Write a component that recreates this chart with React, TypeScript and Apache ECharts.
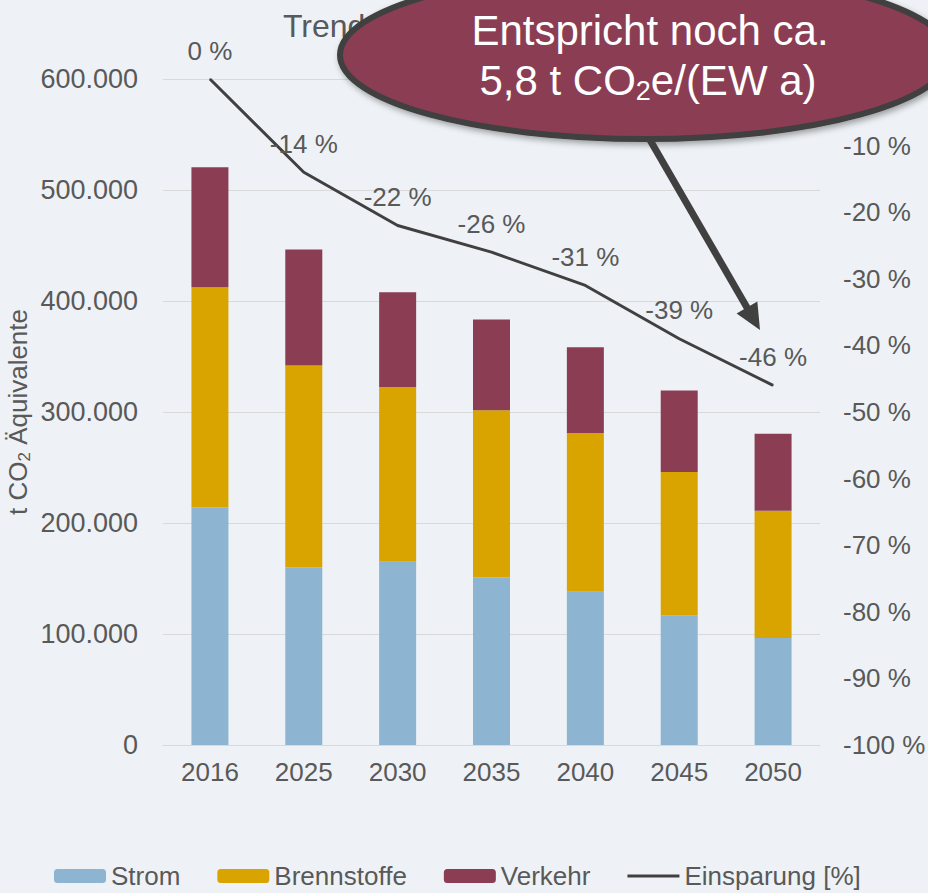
import React, { useEffect, useRef } from "react";
import * as echarts from "echarts";

const years = ["2016", "2025", "2030", "2035", "2040", "2045", "2050"];
const strom = [214000, 160000, 165000, 151000, 138000, 117000, 96500];
const brennstoffe = [198500, 182000, 157500, 150500, 143000, 129000, 114500];
const verkehr = [108000, 104500, 85300, 81800, 77300, 73300, 69300];
const einsparung = [0, -14, -22, -26, -31, -39, -46];

const FONT = "'Liberation Sans', Arial, sans-serif";
const GREY = "#595959";
const DARK = "#404040";

const fmtThousands = (v: number) =>
  String(v).replace(/\B(?=(\d{3})+(?!\d))/g, ".");

export default function App() {
  const ref = useRef<HTMLDivElement>(null);
  useEffect(() => {
    document.body.style.margin = "0";
    const chart = echarts.init(ref.current!, null, { renderer: "svg" });
    // arrow geometry
    const sx = 650, sy = 140, tx = 760, ty = 330;
    const dx = tx - sx, dy = ty - sy;
    const len = Math.sqrt(dx * dx + dy * dy);
    const ux = dx / len, uy = dy / len;
    const hl = 26, hw = 12;
    const bx = tx - ux * hl, by = ty - uy * hl;
    const px = -uy, py = ux;
    chart.setOption({
      animation: false,
      backgroundColor: "#eef2f6",
      textStyle: { fontFamily: FONT },
      title: {
        text: "Trendszenario",
        left: 278,
        top: 5,
        textStyle: { fontSize: 32, fontWeight: "normal", color: GREY, fontFamily: FONT },
      },
      grid: {
        left: 163,
        right: 108,
        top: 79,
        bottom: 148,
        containLabel: false,
        outerBoundsMode: "none",
      },
      legend: {
        top: 858,
        left: 49,
        itemWidth: 52,
        itemHeight: 14,
        itemGap: 37,
        textStyle: { fontSize: 26, color: GREY, fontFamily: FONT },
        data: [
          "Strom",
          "Brennstoffe",
          "Verkehr",
          { name: "Einsparung [%]", icon: "path://M0,0H52V3H0Z" },
        ],
      },
      xAxis: {
        type: "category",
        data: years,
        axisLine: { lineStyle: { color: "#d9d9d9", width: 1 } },
        axisTick: { show: false },
        axisLabel: { fontSize: 26, color: GREY, margin: 14, fontFamily: FONT },
      },
      yAxis: [
        {
          type: "value",
          min: 0,
          max: 600000,
          interval: 100000,
          name: "t CO{sub|2} Äquivalente",
          nameLocation: "middle",
          nameGap: 130,
          nameMoveOverlap: false,
          nameTextStyle: {
            fontSize: 26,
            color: GREY,
            fontFamily: FONT,
            lineHeight: 30,
            rich: {
              sub: { fontSize: 17, lineHeight: 12, verticalAlign: "bottom", color: GREY, fontFamily: FONT },
            },
          },
          axisLine: { show: false },
          axisTick: { show: false },
          splitLine: { lineStyle: { color: "#d9d9d9", width: 1 } },
          axisLabel: {
            fontSize: 27,
            color: GREY,
            margin: 25,
            fontFamily: FONT,
            formatter: (v: number) => fmtThousands(v),
          },
        },
        {
          type: "value",
          min: -100,
          max: 0,
          interval: 10,
          axisLine: { show: false },
          axisTick: { show: false },
          splitLine: { show: false },
          axisLabel: {
            fontSize: 26,
            color: GREY,
            margin: 23,
            fontFamily: FONT,
            formatter: (v: number) => `${v} %`,
          },
        },
      ],
      series: [
        {
          name: "Strom",
          type: "bar",
          stack: "total",
          data: strom,
          barWidth: 37,
          itemStyle: { color: "#8db4d0" },
        },
        {
          name: "Brennstoffe",
          type: "bar",
          stack: "total",
          data: brennstoffe,
          barWidth: 37,
          itemStyle: { color: "#d9a300" },
        },
        {
          name: "Verkehr",
          type: "bar",
          stack: "total",
          data: verkehr,
          barWidth: 37,
          itemStyle: { color: "#8b3d53" },
        },
        {
          name: "Einsparung [%]",
          type: "line",
          yAxisIndex: 1,
          data: einsparung,
          symbol: "circle",
          symbolSize: 1,
          showSymbol: true,
          z: 5,
          lineStyle: { color: DARK, width: 3 },
          itemStyle: { color: DARK },
          label: {
            show: true,
            position: "top",
            distance: 15,
            fontSize: 26,
            color: GREY,
            fontFamily: FONT,
            formatter: (p: any) => `${p.value} %`,
          },
        },
      ],
      graphic: [
        {
          type: "ellipse",
          z: 100,
          shape: { cx: 645, cy: 55, rx: 305, ry: 84 },
          style: {
            fill: "#8b3d53",
            stroke: DARK,
            lineWidth: 6,
            shadowBlur: 6,
            shadowColor: "rgba(0,0,0,0.35)",
            shadowOffsetX: 2,
            shadowOffsetY: 3,
          },
        },
        {
          type: "text",
          z: 101,
          x: 650,
          y: 30,
          style: {
            text: "Entspricht noch ca.",
            fill: "#ffffff",
            fontSize: 42,
            fontFamily: FONT,
            align: "center",
            verticalAlign: "middle",
          },
        },
        {
          type: "text",
          z: 101,
          x: 648,
          y: 80,
          style: {
            text: "5,8 t CO{sub|2}e/(EW a)",
            fill: "#ffffff",
            fontSize: 42,
            lineHeight: 48,
            fontFamily: FONT,
            align: "center",
            verticalAlign: "middle",
            rich: {
              sub: { fontSize: 27, lineHeight: 20, verticalAlign: "bottom", fill: "#ffffff", fontFamily: FONT },
            },
          },
        },
        {
          type: "line",
          z: 100,
          shape: { x1: sx, y1: sy, x2: bx + ux * 2, y2: by + uy * 2 },
          style: { stroke: DARK, lineWidth: 7 },
        },
        {
          type: "polygon",
          z: 100,
          shape: {
            points: [
              [tx, ty],
              [bx + px * hw, by + py * hw],
              [bx - px * hw, by - py * hw],
            ],
          },
          style: { fill: DARK },
        },
      ],
    });
    return () => chart.dispose();
  }, []);
  return (
    <div
      ref={ref}
      style={{ position: "fixed", left: 0, top: 0, width: 928, height: 893 }}
    />
  );
}
